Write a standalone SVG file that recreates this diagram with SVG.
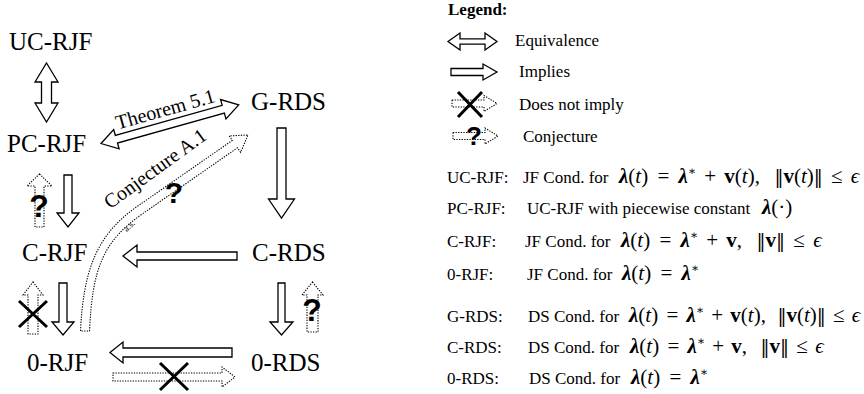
<svg xmlns="http://www.w3.org/2000/svg" width="864" height="394" viewBox="0 0 864 394">
<style>
.node{font-family:"Liberation Serif","Times New Roman",serif;font-size:25px;fill:#000}
.lbl{font-family:"Liberation Serif","Times New Roman",serif;font-size:20px;fill:#000}
.txt{font-family:"Liberation Serif","Times New Roman",serif;font-size:17px;fill:#000;white-space:pre}
.m{font-family:"Liberation Serif","DejaVu Serif",serif;font-size:21px;fill:#000;white-space:pre}
.b{font-weight:bold;font-style:italic}
.bv{font-weight:bold}
.i{font-style:italic}
.n{font-family:"DejaVu Serif",serif;font-size:18px}
.s{font-size:12px}
.q{font-family:"Liberation Sans",Arial,sans-serif;font-weight:bold;fill:#000;text-anchor:middle}
.solid{fill:#fff;stroke:#000;stroke-width:1.3}
.dot{fill:#fff;stroke:#000;stroke-width:1.1;stroke-dasharray:1.3 1.3}
.x{stroke:#000;stroke-width:3;fill:none}
</style>
<rect width="864" height="394" fill="#fff"/>

<g id="connectors">
  <!-- UC-RJF <-> PC-RJF -->
  <polygon class="solid" points="46.5,63 58,82 51.5,82 51.5,103 58,103 46.5,122 35,103 41.5,103 41.5,82 35,82"/>
  <!-- Theorem 5.1: PC-RJF <-> G-RDS -->
  <g transform="translate(101,143.5) rotate(-15.67)">
    <polygon class="solid" points="0,0 16,-10 16,-4 127,-4 127,-10 143,0 127,10 127,4 16,4 16,10"/>
    <text class="lbl" x="71" y="-9" text-anchor="middle">Theorem 5.1</text>
  </g>
  <!-- Conjecture A.1 curved dotted arrow 0-RJF -> G-RDS -->
  <path class="dot" d="M80.5,331 C83.5,270 96.4,234.8 137.4,206.3 L232.3,140.4 L229.2,135.9 L248,135 L240.6,152.3 L237.5,147.8 L142.6,213.7 C101.6,242.2 92.5,270 89.5,331 Z"/>
  <text class="lbl" transform="translate(159,174) rotate(-36)" text-anchor="middle">Conjecture A.1</text>
  <text class="lbl" transform="translate(131,228) rotate(-42)" text-anchor="middle" style="font-size:9px">a.s.</text>
  <text class="q" x="174" y="203" style="font-size:30px">?</text>
  <!-- PC-RJF -> C-RJF -->
  <polygon class="solid" points="64,175 72,175 72,213 79,213 68,227 57,213 64,213"/>
  <!-- C-RJF -> PC-RJF conjecture -->
  <polygon class="dot" points="39.5,174 52,186 44,186 44,227 35,227 35,186 27,186"/>
  <text class="q" x="39" y="217" style="font-size:32px">?</text>
  <!-- G-RDS -> C-RDS -->
  <polygon class="solid" points="277,128 286,128 286,199 294.5,199 281.5,218 268.5,199 277,199"/>
  <!-- C-RDS -> C-RJF -->
  <polygon class="solid" points="237,252 137,252 137,245 123,256 137,267 137,260 237,260"/>
  <!-- C-RJF -> 0-RJF -->
  <polygon class="solid" points="59,283 67,283 67,322 74,322 63,335 52,322 59,322"/>
  <!-- 0-RJF -/-> C-RJF -->
  <polygon class="dot" points="33,282 43,295 38,295 38,334 28,334 28,295 23,295"/>
  <path class="x" d="M19,301 L47,327 M47,301 L19,327"/>
  <!-- C-RDS -> 0-RDS -->
  <polygon class="solid" points="278,283 285,283 285,322 293,322 281.5,335 270,322 278,322"/>
  <!-- 0-RDS -> C-RDS conjecture -->
  <polygon class="dot" points="312.5,282 323,295 318,295 318,332 307,332 307,295 302,295"/>
  <text class="q" x="312" y="321" style="font-size:32px">?</text>
  <!-- 0-RDS -> 0-RJF -->
  <polygon class="solid" points="232,348 123,348 123,342 110,352.5 123,363 123,357 232,357"/>
  <!-- 0-RJF -/-> 0-RDS -->
  <polygon class="dot" points="113,373 222,373 222,367 235,377 222,387 222,381 113,381"/>
  <path class="x" d="M160,363 L188,390 M188,363 L160,390"/>
</g>

<g id="n-ucrjf"><text class="node" x="9" y="50">UC-RJF</text></g>
<g id="n-pcrjf"><text class="node" x="7" y="152">PC-RJF</text></g>
<g id="n-grds"><text class="node" x="251" y="110">G-RDS</text></g>
<g id="n-crjf"><text class="node" x="22" y="261">C-RJF</text></g>
<g id="n-crds"><text class="node" x="252" y="261">C-RDS</text></g>
<g id="n-0rjf"><text class="node" x="27" y="371">0-RJF</text></g>
<g id="n-0rds"><text class="node" x="251" y="371">0-RDS</text></g>

<g id="legend">
  <text class="txt" x="448" y="15" style="font-weight:bold">Legend:</text>
  <polygon class="solid" points="448,41.5 460,33 460,38.8 485,38.8 485,33 497,41.5 485,50 485,44.2 460,44.2 460,50"/>
  <text class="txt" x="515" y="46">Equivalence</text>
  <polygon class="solid" points="451,68.5 483,68.5 483,64 497,72 483,80 483,75.5 451,75.5"/>
  <text class="txt" x="519" y="77">Implies</text>
  <polygon class="dot" points="452,100 484,100 484,95.5 497,103.5 484,111.5 484,107 452,107"/>
  <path class="x" d="M458,92 L482,117 M482,92 L458,117"/>
  <text class="txt" x="519" y="110">Does not imply</text>
  <polygon class="dot" points="453,132.5 485,132.5 485,128 498,136 485,144 485,139.5 453,139.5"/>
  <text class="q" x="474" y="145" style="font-size:26px">?</text>
  <text class="txt" x="523" y="142">Conjecture</text>
</g>

<g id="definitions">
  <text class="txt" x="447" y="183">UC-RJF:</text>
  <text class="txt" x="523" y="183">JF Cond. for</text>
  <text class="m" x="619" y="183"><tspan class="b">λ</tspan>(<tspan class="i">t</tspan>)<tspan dx="4"> = </tspan><tspan class="b" dx="4">λ</tspan><tspan class="s" dy="-8">∗</tspan><tspan dy="8" dx="3"> + </tspan><tspan class="bv" dx="3">v</tspan>(<tspan class="i">t</tspan>),<tspan dx="4">  </tspan><tspan class="n">‖</tspan><tspan class="bv">v</tspan>(<tspan class="i">t</tspan>)<tspan class="n">‖</tspan><tspan dx="3"> ≤ </tspan><tspan class="i" dx="3">ϵ</tspan></text>

  <text class="txt" x="447" y="214">PC-RJF:</text>
  <text class="txt" x="527" y="214">UC-RJF with piecewise constant</text>
  <text class="m" x="762" y="214"><tspan class="b">λ</tspan>(·)</text>

  <text class="txt" x="447" y="247">C-RJF:</text>
  <text class="txt" x="525" y="247">JF Cond. for</text>
  <text class="m" x="621" y="247"><tspan class="b">λ</tspan>(<tspan class="i">t</tspan>)<tspan dx="4"> = </tspan><tspan class="b" dx="4">λ</tspan><tspan class="s" dy="-8">∗</tspan><tspan dy="8" dx="3"> + </tspan><tspan class="bv" dx="3">v</tspan>,<tspan dx="4">  </tspan><tspan class="n">‖</tspan><tspan class="bv">v</tspan><tspan class="n">‖</tspan><tspan dx="3"> ≤ </tspan><tspan class="i" dx="3">ϵ</tspan></text>

  <text class="txt" x="447" y="280">0-RJF:</text>
  <text class="txt" x="527" y="280">JF Cond. for</text>
  <text class="m" x="622" y="280"><tspan class="b">λ</tspan>(<tspan class="i">t</tspan>)<tspan dx="4"> = </tspan><tspan class="b" dx="4">λ</tspan><tspan class="s" dy="-8">∗</tspan></text>

  <text class="txt" x="447" y="322">G-RDS:</text>
  <text class="txt" x="528" y="322">DS Cond. for</text>
  <text class="m" x="629" y="322"><tspan class="b">λ</tspan>(<tspan class="i">t</tspan>)<tspan dx="3"> = </tspan><tspan class="b" dx="3">λ</tspan><tspan class="s" dy="-8">∗</tspan><tspan dy="8" dx="2"> + </tspan><tspan class="bv" dx="2">v</tspan>(<tspan class="i">t</tspan>),<tspan dx="1">  </tspan><tspan class="n">‖</tspan><tspan class="bv">v</tspan>(<tspan class="i">t</tspan>)<tspan class="n">‖</tspan><tspan dx="2"> ≤ </tspan><tspan class="i" dx="2">ϵ</tspan></text>

  <text class="txt" x="447" y="353">C-RDS:</text>
  <text class="txt" x="528" y="353">DS Cond. for</text>
  <text class="m" x="630" y="353"><tspan class="b">λ</tspan>(<tspan class="i">t</tspan>)<tspan dx="3"> = </tspan><tspan class="b" dx="3">λ</tspan><tspan class="s" dy="-8">∗</tspan><tspan dy="8" dx="2"> + </tspan><tspan class="bv" dx="2">v</tspan>,<tspan dx="3">  </tspan><tspan class="n">‖</tspan><tspan class="bv">v</tspan><tspan class="n">‖</tspan><tspan dx="2"> ≤ </tspan><tspan class="i" dx="2">ϵ</tspan></text>

  <text class="txt" x="447" y="384">0-RDS:</text>
  <text class="txt" x="529" y="384">DS Cond. for</text>
  <text class="m" x="631" y="384"><tspan class="b">λ</tspan>(<tspan class="i">t</tspan>)<tspan dx="4"> = </tspan><tspan class="b" dx="4">λ</tspan><tspan class="s" dy="-8">∗</tspan></text>
</g>
</svg>
